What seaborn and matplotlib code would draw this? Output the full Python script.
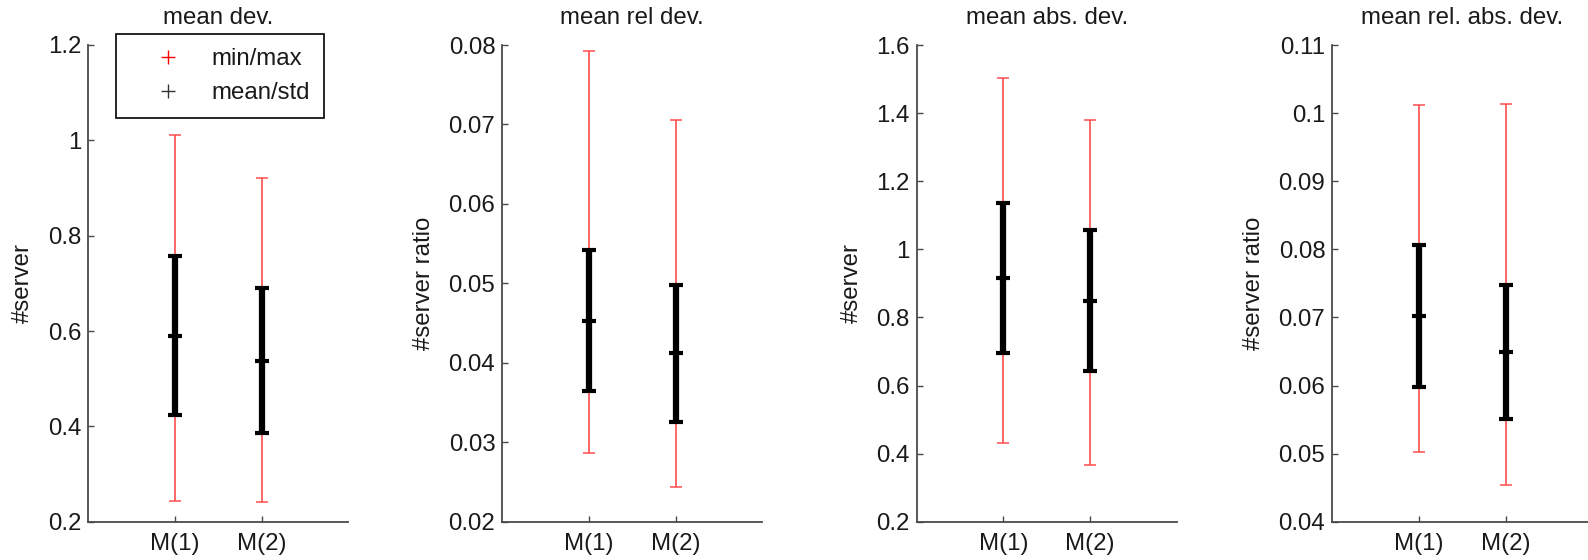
import numpy as np
import pandas as pd
import matplotlib
matplotlib.use("Agg")
import matplotlib.pyplot as plt
from matplotlib.lines import Line2D
from matplotlib.ticker import FormatStrFormatter, MultipleLocator
import seaborn as sns

# Methods compared in each panel
methods = ["M(1)", "M(2)"]

# Panel definitions
titles = ["mean dev.", "mean rel dev.", "mean abs. dev.", "mean rel. abs. dev."]
ylabels = ["#server", "#server ratio", "#server", "#server ratio"]

# Statistics per panel (one entry per method)
dev_mean = [0.590, 0.538]
dev_std = [0.167, 0.152]
dev_min = [0.243, 0.242]
dev_max = [1.011, 0.922]

rel_dev_mean = [0.0453, 0.0412]
rel_dev_std = [0.0089, 0.0086]
rel_dev_min = [0.0286, 0.0244]
rel_dev_max = [0.0793, 0.0705]

abs_dev_mean = [0.915, 0.849]
abs_dev_std = [0.220, 0.207]
abs_dev_min = [0.430, 0.366]
abs_dev_max = [1.504, 1.379]

rel_abs_dev_mean = [0.0702, 0.0649]
rel_abs_dev_std = [0.0104, 0.0098]
rel_abs_dev_min = [0.0503, 0.0454]
rel_abs_dev_max = [0.1012, 0.1013]

# Axis ranges and tick steps
ylims = [(0.2, 1.2), (0.02, 0.08), (0.2, 1.6), (0.04, 0.11)]
ysteps = [0.2, 0.01, 0.2, 0.01]

stats = [
    (dev_mean, dev_std, dev_min, dev_max),
    (rel_dev_mean, rel_dev_std, rel_dev_min, rel_dev_max),
    (abs_dev_mean, abs_dev_std, abs_dev_min, abs_dev_max),
    (rel_abs_dev_mean, rel_abs_dev_std, rel_abs_dev_min, rel_abs_dev_max),
]

sns.set_theme(style="white")
plt.rcParams["font.family"] = ["Liberation Sans", "DejaVu Sans"]
FS = 17.3
plt.rcParams["font.size"] = FS

axis_color = "#4a4a4a"
text_color = "#1a1a1a"
range_color = "#ff4d4d"

W, H = 1588, 560
fig = plt.figure(figsize=(W / 100, H / 100), dpi=100)

lefts = [88.3, 502.3, 916.7, 1332.3]
ax_w = 260.0
ax_top, ax_bot = 45.0, 521.7

for i, (title, ylab, (mean, std, vmin, vmax)) in enumerate(zip(titles, ylabels, stats)):
    ax = fig.add_axes([lefts[i] / W, (H - ax_bot) / H, ax_w / W, (ax_bot - ax_top) / H])
    df = pd.DataFrame({"method": methods, "mean": mean, "std": std, "min": vmin, "max": vmax})
    x = np.arange(1, len(df) + 1)

    # full range (min to max)
    ax.errorbar(x, df["mean"], yerr=[df["mean"] - df["min"], df["max"] - df["mean"]],
                fmt="none", ecolor=range_color, elinewidth=1.2, capsize=4.3, capthick=1.1, zorder=2)
    # mean +/- one standard deviation
    ax.errorbar(x, df["mean"], yerr=df["std"], fmt="_", color="black", ms=10.5, mew=3.0,
                ecolor="black", elinewidth=4.5, capsize=5.3, capthick=3.0, zorder=3)

    ax.set_xlim(0, 3)
    ax.set_ylim(*ylims[i])
    ax.yaxis.set_major_locator(MultipleLocator(ysteps[i]))
    ax.yaxis.set_major_formatter(FormatStrFormatter("%g"))
    ax.set_xticks(x)
    ax.set_xticklabels(df["method"])

    sns.despine(ax=ax, top=True, right=True)
    for side in ("left", "bottom"):
        ax.spines[side].set_color(axis_color)
        ax.spines[side].set_linewidth(1.3)
    ax.tick_params(axis="both", direction="in", length=4, width=1.0, color=axis_color,
                   labelcolor=text_color, labelsize=FS)
    ax.tick_params(axis="y", pad=5, left=True)
    ax.tick_params(axis="x", pad=8, bottom=True)

    ax.set_title(title, fontsize=FS, color=text_color, pad=15)
    ax.set_ylabel(ylab, fontsize=FS, color=text_color, labelpad=10)

handles = [
    Line2D([], [], linestyle="none", marker="+", color="red", markersize=10, mew=1.0),
    Line2D([], [], linestyle="none", marker="+", color="#333333", markersize=10, mew=1.0),
]
leg = fig.legend(handles, ["min/max", "mean/std"], loc="upper left",
                 bbox_to_anchor=(116 / W, 1 - 34 / H), bbox_transform=fig.transFigure,
                 borderaxespad=0, frameon=True, fancybox=False, edgecolor="black",
                 framealpha=1, handlelength=3.2, handletextpad=0.2, labelspacing=0.52,
                 borderpad=0.58, fontsize=FS)
leg.get_frame().set_linewidth(1.2)
for t in leg.get_texts():
    t.set_color(text_color)

fig.savefig("out.png", dpi=100)
